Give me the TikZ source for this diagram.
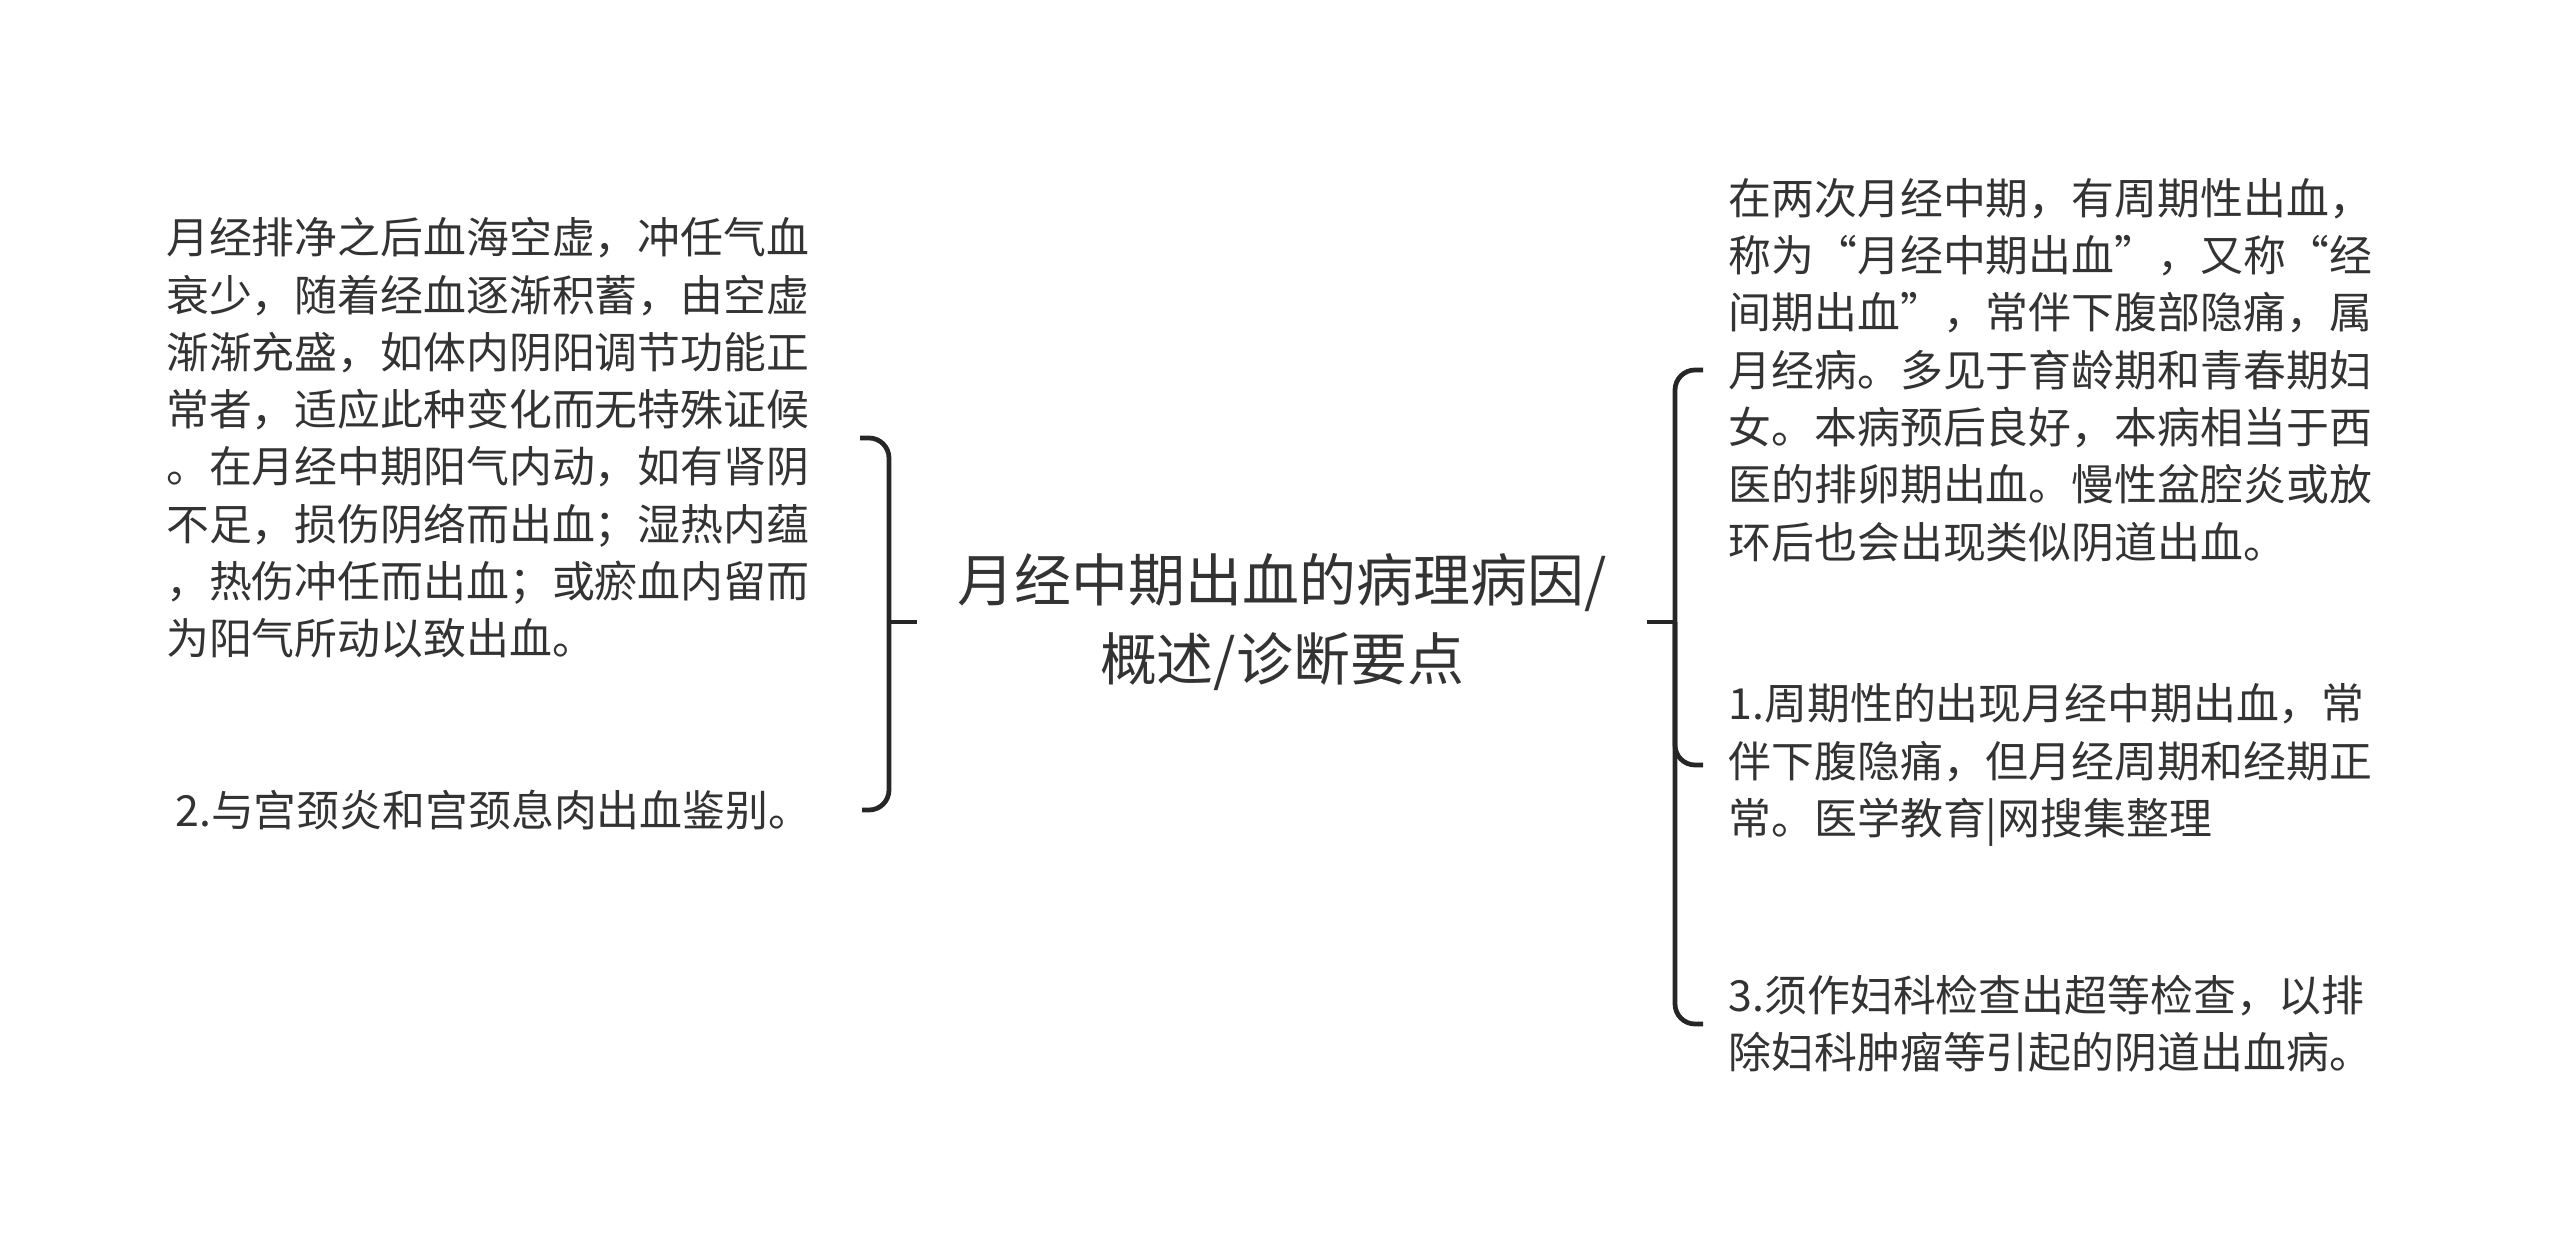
\documentclass[tikz,border=0pt]{standalone}
\usepackage{fontspec}
\newfontfamily\cjk{Noto Sans CJK SC}
\usepackage{xcolor}
\definecolor{ink}{HTML}{333333}
\definecolor{wire}{HTML}{262626}

\begin{document}
\begin{tikzpicture}[
	leaf/.style = {font=\cjk\fontsize{12.2}{16.3}\selectfont, text=ink, align=left, inner xsep=0.25cm, inner ysep=0pt},
	lleaf/.style = {leaf, inner xsep=0.5cm},
	link/.style = {draw=wire, line width=1.35pt, rounded corners=0.2cm}]
	\useasboundingbox (0,0) rectangle (25.6,-12.47);
	\node[font=\cjk\fontsize{16.2}{22.7}\selectfont, text=ink, align=center, inner xsep=0.4cm] (root) at (12.82,-6.22) {月经中期出血的病理病因/\\概述/诊断要点};
	% left side
	\node[lleaf, anchor=east] (cause) at (8.60,-4.38) {月经排净之后血海空虚，冲任气血\\衰少，随着经血逐渐积蓄，由空虚\\渐渐充盛，如体内阴阳调节功能正\\常者，适应此种变化而无特殊证候\\。在月经中期阳气内动，如有肾阴\\不足，损伤阴络而出血；湿热内蕴\\，热伤冲任而出血；或瘀血内留而\\为阳气所动以致出血。};
	\node[lleaf, anchor=east] (diff) at (8.62,-8.10) {2.与宫颈炎和宫颈息肉出血鉴别。};
	% right side
	\node[leaf, anchor=west] (intro) at (17.03,-3.70) {在两次月经中期，有周期性出血，\\称为“月经中期出血”，又称“经\\间期出血”，常伴下腹部隐痛，属\\月经病。多见于育龄期和青春期妇\\女。本病预后良好，本病相当于西\\医的排卵期出血。慢性盆腔炎或放\\环后也会出现类似阴道出血。};
	\node[leaf, anchor=west] (point1) at (17.03,-7.65) {1.周期性的出现月经中期出血，常\\伴下腹隐痛，但月经周期和经期正\\常。医学教育|网搜集整理};
	\node[leaf, anchor=west] (point3) at (17.03,-10.24) {3.须作妇科检查出超等检查，以排\\除妇科肿瘤等引起的阴道出血病。};
	% brackets
	\draw[link] (root.west) -- ++(-0.28,0) coordinate (lj);
	\draw[link] (cause.east) -| (lj) |- (diff.east);
	\draw[link] (root.east) -- ++(0.28,0) coordinate (rj);
	\draw[link] (intro.west) -| (rj) |- (point3.west);
	\draw[link] (rj) |- (point1.west);
\end{tikzpicture}
\end{document}
